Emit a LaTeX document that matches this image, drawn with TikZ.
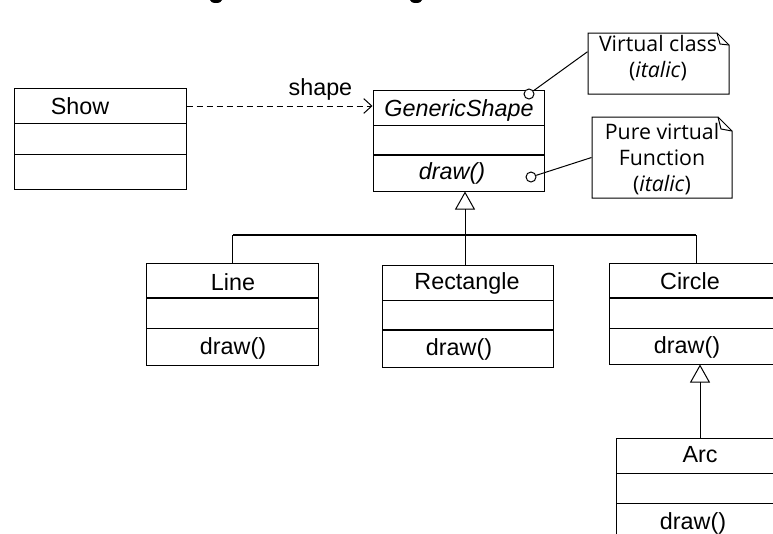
\documentclass[tikz,border=0pt]{standalone}
\usepackage{fontspec}
\setmainfont{Liberation Sans}
\newfontfamily\notefont{Open Sans}
\usetikzlibrary{arrows.meta,fit,calc}
\begin{document}
\begin{tikzpicture}[x=0.75pt,y=-0.75pt,line width=0.75pt,
  classbox/.style={draw,rectangle,inner sep=0pt,fill=none},
  notebox/.style={inner sep=0pt},
  lbl/.style={inner sep=0pt,font=\fontsize{17.5}{20}\selectfont},
  notetxt/.style={inner sep=0pt,align=center,font=\notefont\fontsize{16}{19.5}\selectfont},
  thickdiv/.style={line width=1.5pt},
  gen/.style={-{Triangle[open,length=13.5pt,width=15pt]}},
  dep/.style={dashed,dash pattern=on 4.5pt off 3pt,-{Straight Barb[length=6pt,width=11pt]}},
  pin/.style={circle,draw,inner sep=0pt,minimum size=7.5pt,fill=white}]
\useasboundingbox (0,0) rectangle (773,533);
\clip (0,0) rectangle (773,533);

% cut-off title descenders
\fill (216,0) ellipse [x radius=6,y radius=3];
\fill (416,0) ellipse [x radius=6,y radius=3];

% Show
\node[classbox,fit={(14,88) (186,189)}] (show) {};
\draw (14,123) -- (186,123);
\draw (14,154) -- (186,154);
\node[lbl] (showname) at (80,106) {Show};

% GenericShape
\node[classbox,fit={(373,90) (544,191)}] (generic) {};
\draw (373,125) -- (544,125);
\draw[thickdiv] (373,155) -- (544,155);
\node[lbl] (genname) at (459,110) {\itshape GenericShape};
\node[lbl] (gendraw) at (452,173) {\itshape draw()};

% dependency
\draw[dep] (show.east |- showname) -- (generic.west |- showname)
  node[lbl,pos=0.72,above=4pt] (shapelbl) {shape};

% Line
\node[classbox,fit={(146,263) (318,365)}] (line) {};
\draw[thickdiv] (146,298) -- (318,298);
\draw (146,328) -- (318,328);
\node[lbl] (linename) at (233,282) {Line};
\node[lbl] (linedraw) at (233,348) {draw()};

% Rectangle
\node[classbox,fit={(382,265) (553,367)}] (rect) {};
\draw (382,300) -- (553,300);
\draw[thickdiv] (382,330) -- (553,330);
\node[lbl] (rectname) at (467,283) {Rectangle};
\node[lbl] (rectdraw) at (459,349) {draw()};

% Circle
\node[classbox,fit={(609,263) (783,364)}] (circ) {};
\draw[thickdiv] (609,298) -- (783,298);
\draw (609,328) -- (783,328);
\node[lbl] (circname) at (690,281) {Circle};
\node[lbl] (circdraw) at (687,347) {draw()};

% Arc
\node[classbox,fit={(616,438) (784,560)}] (arc) {};
\draw (616,473) -- (784,473);
\draw (616,503) -- (784,503);
\node[lbl] (arcname) at (700,455) {Arc};
\node[lbl] (arcdraw) at (693,523) {draw()};

% generalization tree
\coordinate (treex) at (465,235);
\draw[gen] (treex |- rect.north) -- (treex |- generic.south);
\draw[line width=1.5pt] (233,235) -- (696,235);
\draw (line.north) -- (line.north |- treex);
\draw (circ.north) -- (circ.north |- treex);
\draw[gen] (arc.north) -- (arc.north |- circ.south);

% notes
\node[notebox,fit={(588,33) (729,94)}] (note1) {};
\draw (588,33) -- (717,33) -- (729,45) -- (729,94) -- (588,94) -- cycle;
\draw (717,33) -- (720,44) -- (729,45);
\node[notetxt] (note1txt) at (658,58) {Virtual class\\(\textit{italic})};

\node[notebox,fit={(592,117) (732,198)}] (note2) {};
\draw (592,117) -- (718,117) -- (732,131) -- (732,198) -- (592,198) -- cycle;
\draw (718,117) -- (721,129) -- (732,131);
\node[notetxt] (note2txt) at (662,159) {Pure virtual\\Function\\(\textit{italic})};

% note attachments
\node[pin] (pin1) at (529,94) {};
\node[pin] (pin2) at (531,177) {};
\draw (pin1) -- ($(note1.north west)!0.31!(note1.south west)$);
\draw (pin2) -- ($(note2.north west)!0.5!(note2.south west)$);
\end{tikzpicture}
\end{document}
